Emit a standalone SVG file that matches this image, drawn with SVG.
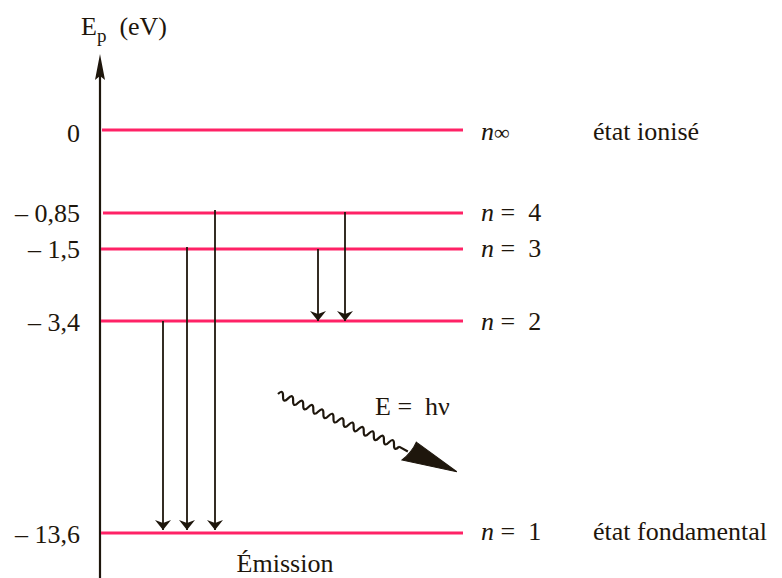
<svg xmlns="http://www.w3.org/2000/svg" width="782" height="578" viewBox="0 0 782 578">
<defs>
<style>
.lvl{stroke:#ff2266;stroke-width:3;fill:none}
.ax{stroke:#1e160c;stroke-width:2.2;fill:none}
.tr{stroke:#1e160c;stroke-width:1.8;fill:none;marker-end:url(#ah)}
text{font-family:'Liberation Serif','Times New Roman',serif;font-size:26px;fill:#1e160c}
.r{text-anchor:end}
</style>
<marker id="ah" viewBox="0 0 10 16" refX="10" refY="8" markerWidth="10" markerHeight="16" markerUnits="userSpaceOnUse" orient="auto">
<path d="M0,0 L10,8 L0,16 L3,8 Z" fill="#1e160c"/>
</marker>
</defs>
<g id="axis">
<line class="ax" x1="100" y1="578" x2="100" y2="70"/>
<path d="M100,54 L105,80 L100,76 L95,80 Z" fill="#1e160c"/>
<text x="81" y="35">E<tspan font-size="19" dy="7">p</tspan><tspan dy="-7" xml:space="preserve">  (eV)</tspan></text>
</g>
<g id="level-inf">
<line class="lvl" x1="102" y1="130" x2="463" y2="130"/>
<text class="r" x="80" y="142">0</text>
<text x="481" y="140"><tspan font-style="italic">n</tspan><tspan font-size="22">∞</tspan></text>
<text x="593" y="140">état ionisé</text>
</g>
<g id="level-4">
<line class="lvl" x1="103" y1="213" x2="463" y2="213"/>
<text class="r" x="80" y="222">– 0,85</text>
<text x="481" y="221" xml:space="preserve"><tspan font-style="italic">n</tspan> =  4</text>
</g>
<g id="level-3">
<line class="lvl" x1="101" y1="249" x2="463" y2="249"/>
<text class="r" x="80" y="258">– 1,5</text>
<text x="481" y="257" xml:space="preserve"><tspan font-style="italic">n</tspan> =  3</text>
</g>
<g id="level-2">
<line class="lvl" x1="101" y1="321" x2="463" y2="321"/>
<text class="r" x="80" y="331">– 3,4</text>
<text x="481" y="330" xml:space="preserve"><tspan font-style="italic">n</tspan> =  2</text>
</g>
<g id="level-1">
<line class="lvl" x1="101" y1="533" x2="463" y2="533"/>
<text class="r" x="80" y="543">– 13,6</text>
<text x="481" y="540" xml:space="preserve"><tspan font-style="italic">n</tspan> =  1</text>
<text x="593" y="540">état fondamental</text>
<text x="285" y="572" text-anchor="middle">Émission</text>
</g>
<g id="photon">
<path d="M0,0 q2.75,-7 5.5,0 t5.5,0 t5.5,0 t5.5,0 t5.5,0 t5.5,0 t5.5,0 t5.5,0 t5.5,0 t5.5,0 t5.5,0 t5.5,0 t5.5,0 t5.5,0 t5.5,0 t5.5,0 t5.5,0 t5.5,0 t5.5,0 t5.5,0 t5.5,0 t5.5,0 t5.5,0 t5.5,0 M132,0 L142,1" transform="translate(278,394) rotate(23.5)" stroke="#1e160c" stroke-width="2.2" fill="none"/>
<path d="M146,-11 L195,0 L140,11 Q146,0 146,-11 Z" transform="translate(278,394) rotate(23.5)" fill="#1e160c" stroke="#1e160c" stroke-width="1"/>
<text x="375" y="415" xml:space="preserve">E =  hν</text>
</g>
<g id="transitions">
<line class="tr" x1="163" y1="321" x2="163" y2="530"/>
<line class="tr" x1="187" y1="247" x2="187" y2="530"/>
<line class="tr" x1="215" y1="210" x2="215" y2="530"/>
<line class="tr" x1="318" y1="249" x2="318" y2="321"/>
<line class="tr" x1="345" y1="212" x2="345" y2="321"/>
</g>
</svg>
